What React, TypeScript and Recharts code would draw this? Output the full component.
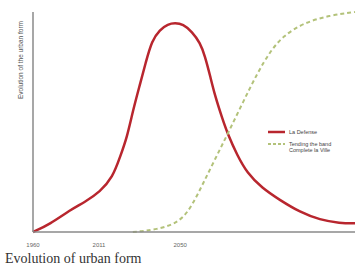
import { LineChart, Line, XAxis, YAxis } from "recharts"

// position along the time axis (0..100) and relative level (0..100)
const redPos = [0, 5.3, 11.5, 16.1, 20.8, 24.8, 27, 29.2, 31, 33.2, 35, 36.9, 39.4, 41.9, 44.1, 46.6, 49.4, 51.9, 53.4, 55, 56.5, 58.7, 60.6, 63.4, 66.5, 71.1, 76.7, 82.9, 89.1, 95.3, 100]
const redVal = [0, 3.6, 10, 13.6, 18.2, 25, 34, 43, 55, 67, 77, 87, 92, 94.5, 95, 94.5, 91, 86, 80, 71, 62, 52, 44, 35, 26.8, 20, 14.5, 9, 5.5, 4, 4]
const greenPos = [31, 38.5, 45.7, 49.4, 52.8, 56.5, 60.6, 65.2, 69.6, 73.6, 77.6, 83.9, 92.2, 100]
const greenVal = [0, 1, 4.5, 12, 22, 33, 45, 59, 72, 82, 89, 95, 98.5, 100]

const tickPos = [0, 20.5, 45.7]
const tickLabels = ["1960", "2011", "2050"]
const seriesNames = ["La Defense", "Tending the band Complete la Ville"]

const redData = redPos.map((p, i) => ({ p, v: redVal[i] }))
const greenData = greenPos.map((p, i) => ({ p, v: greenVal[i] }))

const RED = "#b8262e"
const GREEN = "#b3c27a"

function LegendBox() {
  return (
    <div style={{ position: "absolute", left: 268, top: 129, fontFamily: "Arial, sans-serif", fontSize: 5.5, color: "#444", lineHeight: "6px" }}>
      <div style={{ display: "flex", alignItems: "center", gap: 4, marginBottom: 6 }}>
        <svg width={17} height={4}>
          <line x1={0} y1={2} x2={17} y2={2} stroke={RED} strokeWidth={2.5} />
        </svg>
        <span>{seriesNames[0]}</span>
      </div>
      <div style={{ display: "flex", alignItems: "flex-start", gap: 4 }}>
        <svg width={17} height={4} style={{ marginTop: 1 }}>
          <line x1={0} y1={2} x2={17} y2={2} stroke={GREEN} strokeWidth={2} strokeDasharray="3 2" />
        </svg>
        <span style={{ width: 58 }}>{seriesNames[1]}</span>
      </div>
    </div>
  )
}

export default function App() {
  return (
    <div style={{ position: "absolute", left: 0, top: 0, width: 358, height: 268, background: "#fff", overflow: "hidden" }}>
      <LineChart width={358} height={252} margin={{ top: 12, right: 3, bottom: 0, left: 30 }}>
        <XAxis
          dataKey="p"
          type="number"
          domain={[0, 100]}
          ticks={tickPos}
          tickFormatter={(v: number) => tickLabels[tickPos.indexOf(v)]}
          tickLine={false}
          tickSize={6}
          tickMargin={5}
          height={20}
          axisLine={{ stroke: "#8a8a8a", strokeWidth: 1.5 }}
          tick={{ fontSize: 6, fill: "#666", fontFamily: "Arial, sans-serif" }}
          allowDuplicatedCategory={false}
        />
        <YAxis
          type="number"
          domain={[0, 100]}
          width={3}
          tick={false}
          tickLine={false}
          axisLine={{ stroke: "#8a8a8a", strokeWidth: 1.5 }}
        />
        <Line
          data={redData}
          dataKey="v"
          type="basis"
          stroke={RED}
          strokeWidth={2.5}
          dot={false}
          isAnimationActive={false}
        />
        <Line
          data={greenData}
          dataKey="v"
          type="basis"
          stroke={GREEN}
          strokeWidth={2}
          strokeDasharray="4 3"
          dot={false}
          isAnimationActive={false}
        />
      </LineChart>
      <LegendBox />
      <div
        style={{
          position: "absolute",
          left: 20,
          top: 60,
          transform: "translate(-50%, -50%) rotate(-90deg)",
          whiteSpace: "nowrap",
          fontFamily: "Arial, sans-serif",
          fontSize: 6.5,
          color: "#555",
        }}
      >
        Evolution of the urban form
      </div>
      <div
        style={{
          position: "absolute",
          left: 5,
          top: 251,
          fontFamily: "'Liberation Serif', 'Times New Roman', serif",
          fontSize: 14,
          color: "#333",
          whiteSpace: "nowrap",
        }}
      >
        Evolution of urban form
      </div>
    </div>
  )
}
